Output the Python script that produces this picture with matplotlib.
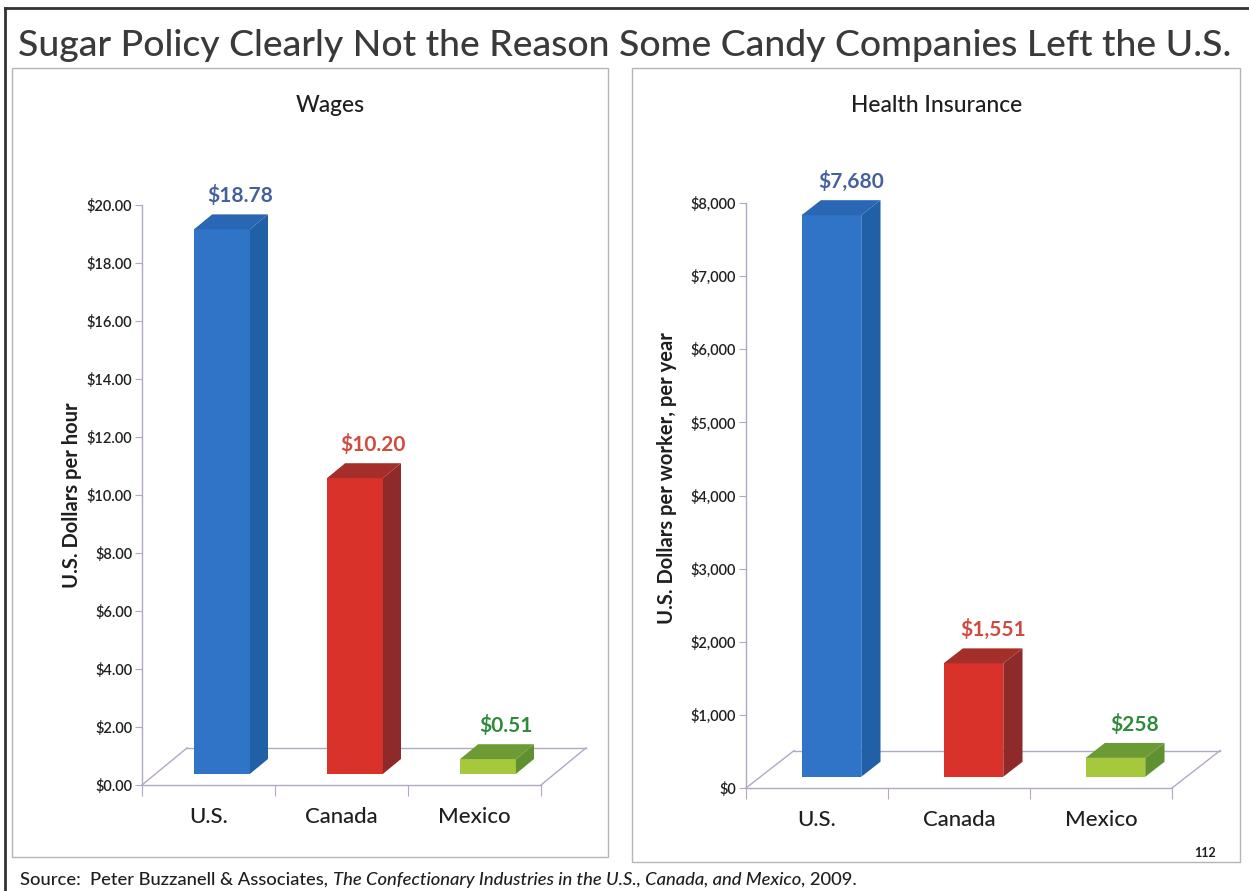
import numpy as np
import matplotlib
matplotlib.use("Agg")
import matplotlib.pyplot as plt
from matplotlib.patches import Polygon, Rectangle

plt.rcParams['font.family'] = ['Lato', 'DejaVu Sans']

W, H = 1249, 891

countries = ["U.S.", "Canada", "Mexico"]
wages = [18.78, 10.20, 0.51]
wage_labels = ["$18.78", "$10.20", "$0.51"]
wage_ticks = [0, 2, 4, 6, 8, 10, 12, 14, 16, 18, 20]
insurance = [7680, 1551, 258]
insurance_labels = ["$7,680", "$1,551", "$258"]
insurance_ticks = [0, 1000, 2000, 3000, 4000, 5000, 6000, 7000, 8000]

front_cols = ["#2f74c6", "#d8322a", "#a6c83c"]
side_cols = ["#2160a6", "#8e2b2a", "#5f9130"]
top_cols = ["#2966b4", "#a42e2a", "#6c9b36"]
label_cols = ["#44619e", "#d24a3f", "#2f8a3c"]
axis_col = "#b4a6c6"
text_col = "#1f1f1f"


def fx(px):
    return px / W


def fy(py):
    return 1 - py / H


def axes_at(x0, y0, x1, y1):
    # pixel box -> axes (y0 top, y1 bottom)
    return fig.add_axes([fx(x0), fy(y1), fx(x1) - fx(x0), fy(y0) - fy(y1)])


def draw_panel(ax, values, labels, ymax, ticks, fmt, ylabel):
    n = len(values)
    ax.set_xlim(0, n)
    ax.set_ylim(0, ymax)
    DX = 0.113 * n
    DY = 0.064 * ymax
    # floor
    fl = dict(color=axis_col, lw=1.0, clip_on=False, zorder=1)
    ax.plot([0, DX], [0, DY], **fl)
    ax.plot([DX, n + DX], [DY, DY], **fl)
    ax.plot([n + DX, n], [DY, 0], **fl)
    w = 0.42
    for i, v in enumerate(values):
        c = i + 0.5
        x0 = c - w / 2 + 0.3 * DX
        y0 = 0.3 * DY
        bdx, bdy = 0.4 * DX, 0.4 * DY
        ax.add_patch(Rectangle((x0, y0), w, v, fc=front_cols[i], ec='none',
                               zorder=3, clip_on=False))
        ax.add_patch(Polygon([(x0 + w, y0), (x0 + w + bdx, y0 + bdy),
                              (x0 + w + bdx, y0 + bdy + v), (x0 + w, y0 + v)],
                             closed=True, fc=side_cols[i], ec='none', zorder=3, clip_on=False))
        ax.add_patch(Polygon([(x0, y0 + v), (x0 + bdx, y0 + v + bdy),
                              (x0 + w + bdx, y0 + v + bdy), (x0 + w, y0 + v)],
                             closed=True, fc=top_cols[i], ec='none', zorder=3, clip_on=False))
        ax.annotate(labels[i], (x0 + w / 2 + bdx, y0 + v + bdy), xytext=(0, 6),
                    textcoords='offset points', ha='center', va='bottom',
                    fontsize=15, color=label_cols[i], fontweight='bold',
                    annotation_clip=False)
    for s in ['top', 'right']:
        ax.spines[s].set_visible(False)
    for s in ['left', 'bottom']:
        ax.spines[s].set_color(axis_col)
        ax.spines[s].set_linewidth(1.0)
    ax.set_yticks(ticks)
    ax.set_yticklabels([fmt(t) for t in ticks])
    ax.tick_params(axis='y', direction='out', length=5, color=axis_col,
                   labelsize=10.5, labelcolor=text_col, pad=2)
    for t in ax.get_yticklabels():
        t.set_fontweight('semibold')
    ax.set_xticks(range(n + 1))
    ax.set_xticklabels([''] * (n + 1))
    ax.tick_params(axis='x', which='major', direction='out', length=8, color=axis_col)
    ax.set_xticks([i + 0.5 for i in range(n)], minor=True)
    ax.set_xticklabels(countries, minor=True)
    ax.tick_params(axis='x', which='minor', length=0, labelsize=16,
                   labelcolor=text_col, pad=16)
    for t in ax.get_xticklabels(minor=True):
        t.set_fontweight('medium')
    ax.set_ylabel(ylabel, fontsize=14.5, fontweight='bold', color=text_col)
    ax.patch.set_alpha(0)


fig = plt.figure(figsize=(W / 100, H / 100), dpi=100)
bg = fig.add_axes([0, 0, 1, 1])
bg.set_xlim(0, W)
bg.set_ylim(H, 0)
bg.axis('off')

# outer frame and panel boxes
bg.plot([5, W], [8, 8], color='#333333', lw=2)
bg.plot([5, 5], [8, H], color='#333333', lw=2)
bg.add_patch(Rectangle((12, 68), 596, 789, fc='white', ec='#b5b5b5', lw=1))
bg.add_patch(Rectangle((632, 68), 608, 794, fc='white', ec='#b5b5b5', lw=1))

# title, fitted to the slide width
title = bg.text(625, 45, "Sugar Policy Clearly Not the Reason Some Candy Companies Left the U.S.",
                ha='center', va='center', fontsize=30, color='#3a3a3a', fontweight='medium')
fig.canvas.draw()
tw = title.get_window_extent().width
title.set_fontsize(30 * 1212 / tw)

bg.text(330, 105, "Wages", ha='center', va='center', fontsize=16.5, color=text_col,
        fontweight='medium')
bg.text(937, 105, "Health Insurance", ha='center', va='center', fontsize=16.5, color=text_col,
        fontweight='medium')

ax1 = axes_at(142, 205, 541, 785)
draw_panel(ax1, wages, wage_labels, 20, wage_ticks, lambda t: "${:.2f}".format(t),
           "U.S. Dollars per hour")
ax1.yaxis.set_label_coords(-0.15, 0.5)

ax2 = axes_at(746, 203, 1172, 788)
draw_panel(ax2, insurance, insurance_labels, 8000, insurance_ticks,
           lambda t: "${:,.0f}".format(t), "U.S. Dollars per worker, per year")
ax2.yaxis.set_label_coords(-0.163, 0.53)

bg.text(1205, 853, "112", ha='center', va='center', fontsize=9, fontweight='bold', color=text_col)

# source line
fs = 13.2
s1 = bg.annotate("Source:  Peter Buzzanell & Associates, ", (20, 885), ha='left', va='baseline',
                 fontsize=fs, color=text_col, fontweight='medium')
s2 = bg.annotate("The Confectionary Industries in the U.S., Canada, and Mexico", (1, 0),
                 xycoords=s1, ha='left', va='bottom', fontsize=fs, style='italic',
                 color=text_col, fontweight='medium')
bg.annotate(", 2009.", (1, 0), xycoords=s2, ha='left', va='bottom', fontsize=fs,
            color=text_col, fontweight='medium')

fig.savefig("out.png", dpi=100, facecolor='white')
